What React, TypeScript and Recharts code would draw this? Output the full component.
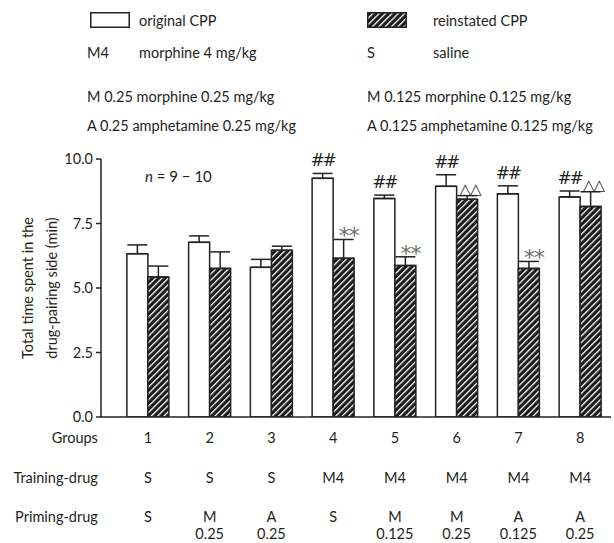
import React from 'react';
import { BarChart, Bar, XAxis, YAxis, ErrorBar, LabelList, Label } from 'recharts';

const groups = ['1', '2', '3', '4', '5', '6', '7', '8'];
const trainingDrug = ['S', 'S', 'S', 'M4', 'M4', 'M4', 'M4', 'M4'];
const primingDrug = ['S', 'M', 'A', 'S', 'M', 'M', 'A', 'A'];
const primingDose = ['', '0.25', '0.25', '', '0.125', '0.25', '0.125', '0.25'];
const originalCPP = [6.33, 6.77, 5.8, 9.25, 8.47, 8.94, 8.65, 8.53];
const originalSEM = [0.34, 0.25, 0.31, 0.19, 0.13, 0.45, 0.31, 0.23];
const reinstatedCPP = [5.43, 5.76, 6.46, 6.15, 5.87, 8.44, 5.76, 8.16];
const reinstatedSEM = [0.42, 0.64, 0.16, 0.73, 0.34, 0.14, 0.27, 0.57];
const originalMarks = ['', '', '', '##', '##', '##', '##', '##'];
const reinstatedMarks = ['', '', '', '**', '**', '△△', '**', '△△'];
const yTicks = [0, 2.5, 5, 7.5, 10];
const seriesNames = ['original CPP', 'reinstated CPP'];
const abbreviations = [
  ['M4', 'morphine 4 mg/kg', 'S', 'saline'],
];
const doseNotes = [
  ['M 0.25 morphine 0.25 mg/kg', 'M 0.125 morphine 0.125 mg/kg'],
  ['A 0.25 amphetamine 0.25 mg/kg', 'A 0.125 amphetamine 0.125 mg/kg'],
];
const rowLabels = ['Groups', 'Training-drug', 'Priming-drug'];
const yLabelLines = ['Total time spent in the', 'drug-pairing side (min)'];

const data = groups.map((g, i) => ({
  group: g,
  original: originalCPP[i],
  originalErr: [0, originalSEM[i]],
  reinstated: reinstatedCPP[i],
  reinstatedErr: [0, reinstatedSEM[i]],
  oMark: originalMarks[i],
  rMark: reinstatedMarks[i],
}));

const FONT = 'Lato, "Open Sans", sans-serif';
const FS = 14.5;
const TXT = '#231f20';

const XTick = (props: any) => {
  const { x, y, payload } = props;
  const i = payload.index;
  return (
    <g fontFamily={FONT} fontSize={FS} fill={TXT}>
      <text x={x} y={y + 26} textAnchor="middle" fill={TXT}>{groups[i]}</text>
      <text x={x} y={y + 66} textAnchor="middle" fill={TXT}>{trainingDrug[i]}</text>
      <text x={x} y={y + 105} textAnchor="middle" fill={TXT}>{primingDrug[i]}</text>
      <text x={x} y={y + 122} textAnchor="middle" fill={TXT}>{primingDose[i]}</text>
      {i === 0 && (
        <g>
          <text x={x - 50} y={y + 26} textAnchor="end" fill={TXT}>{rowLabels[0]}</text>
          <text x={x - 50} y={y + 66} textAnchor="end" fill={TXT}>{rowLabels[1]}</text>
          <text x={x - 50} y={y + 105} textAnchor="end" fill={TXT}>{rowLabels[2]}</text>
        </g>
      )}
    </g>
  );
};

const YLabel = (props: any) => {
  const vb = props.viewBox || {};
  const cy = vb.y + vb.height / 2;
  return (
    <g fontFamily={FONT} fontSize={FS} fill={TXT}>
      <text x={33} y={cy} transform={`rotate(-90 33 ${cy})`} textAnchor="middle" fill={TXT}>{yLabelLines[0]}</text>
      <text x={57} y={cy} transform={`rotate(-90 57 ${cy})`} textAnchor="middle" fill={TXT}>{yLabelLines[1]}</text>
    </g>
  );
};

const makeMark = (vals: number[], errs: number[], marks: string[]) => (props: any) => {
  const { x, y, width, height, index } = props;
  const m = marks[index];
  if (!m) return null;
  const pxPer = height / vals[index];
  const top = y - errs[index] * pxPer;
  const cx = x + width / 2;
  if (m === '##') {
    return (
      <text x={cx} y={top - 7} textAnchor="middle" fontFamily='"DejaVu Sans", sans-serif' fontSize={17} letterSpacing={-2} fill={TXT}>{m}</text>
    );
  }
  if (m === '**') {
    return (
      <text x={cx + 5} y={top + 4} textAnchor="middle" fontFamily='"DejaVu Sans", sans-serif' fontSize={22} letterSpacing={-1} fill="#6a6a6a">{m}</text>
    );
  }
  return (
    <text x={cx + 3} y={top - 2} textAnchor="middle" fontFamily='"DejaVu Sans", sans-serif' fontSize={15} letterSpacing={-1} fill={TXT}>{m}</text>
  );
};

const Swatch = ({ hatched }: { hatched: boolean }) => (
  <svg width={40} height={16} style={{ display: 'block' }}>
    <defs>
      <pattern id="hatchLegend" patternUnits="userSpaceOnUse" width={4.5} height={4.5} patternTransform="rotate(45)">
        <rect width={4.5} height={4.5} fill="#1a1a1a" />
        <rect width={1.3} height={4.5} fill="#fff" />
      </pattern>
    </defs>
    <rect x={0.75} y={0.75} width={38.5} height={14.5} fill={hatched ? 'url(#hatchLegend)' : '#fff'} stroke="#222" strokeWidth={1.5} />
  </svg>
);

const rowStyle = (top: number, left: number): React.CSSProperties => ({
  position: 'absolute', top: top - 9, left, fontFamily: FONT, fontSize: FS, lineHeight: '18px', color: TXT, whiteSpace: 'nowrap',
});

export default function App() {
  return (
    <div style={{ position: 'absolute', left: 0, top: 0, width: 614, height: 543, background: '#fff' }}>
      <div style={{ position: 'absolute', left: 90, top: 12 }}><Swatch hatched={false} /></div>
      <div style={rowStyle(21, 139)}>{seriesNames[0]}</div>
      <div style={{ position: 'absolute', left: 367, top: 12 }}><Swatch hatched={true} /></div>
      <div style={rowStyle(21, 433)}>{seriesNames[1]}</div>
      <div style={rowStyle(53, 87)}>{abbreviations[0][0]}</div>
      <div style={rowStyle(53, 139)}>{abbreviations[0][1]}</div>
      <div style={rowStyle(53, 367)}>{abbreviations[0][2]}</div>
      <div style={rowStyle(53, 433)}>{abbreviations[0][3]}</div>
      <div style={rowStyle(97, 87)}>{doseNotes[0][0]}</div>
      <div style={rowStyle(97, 367)}>{doseNotes[0][1]}</div>
      <div style={rowStyle(126, 87)}>{doseNotes[1][0]}</div>
      <div style={rowStyle(126, 367)}>{doseNotes[1][1]}</div>
      <div style={{ position: 'absolute', left: 0, top: 0 }}>
        <BarChart width={614} height={543} data={data} margin={{ top: 159, right: 3, bottom: 0, left: 0 }} barGap={0} barCategoryGap="16%">
          <defs>
            <pattern id="hatchBar" patternUnits="userSpaceOnUse" width={4.5} height={4.5} patternTransform="rotate(45)">
              <rect width={4.5} height={4.5} fill="#1a1a1a" />
              <rect width={1.3} height={4.5} fill="#fff" />
            </pattern>
          </defs>
          <XAxis
            dataKey="group"
            height={126}
            tickLine={false}
            tickSize={0}
            tickMargin={0}
            interval={0}
            padding={{ left: 16, right: 0 }}
            axisLine={{ stroke: '#222', strokeWidth: 1.5 }}
            tick={<XTick />}
          />
          <YAxis
            width={101}
            domain={[0, 10]}
            ticks={yTicks}
            tickFormatter={(v: number) => v.toFixed(1)}
            tickSize={5}
            tickMargin={3}
            tickLine={{ stroke: '#222', strokeWidth: 1.5 }}
            axisLine={{ stroke: '#222', strokeWidth: 1.5 }}
            tick={{ fontFamily: FONT, fontSize: FS, fill: TXT }}
            allowDataOverflow
          >
            <Label content={<YLabel />} />
          </YAxis>
          <Bar dataKey="original" name={seriesNames[0]} fill="#fff" stroke="#222" strokeWidth={1.5} isAnimationActive={false}>
            <ErrorBar dataKey="originalErr" width={10} stroke="#222" strokeWidth={1.5} direction="y" />
            <LabelList dataKey="oMark" content={makeMark(originalCPP, originalSEM, originalMarks)} />
          </Bar>
          <Bar dataKey="reinstated" name={seriesNames[1]} fill="url(#hatchBar)" stroke="#222" strokeWidth={1.5} isAnimationActive={false}>
            <ErrorBar dataKey="reinstatedErr" width={10} stroke="#222" strokeWidth={1.5} direction="y" />
            <LabelList dataKey="rMark" content={makeMark(reinstatedCPP, reinstatedSEM, reinstatedMarks)} />
          </Bar>
          <text x={145} y={182} fontFamily={FONT} fontSize={15} fill={TXT}>
            <tspan fontStyle="italic">n</tspan>
            <tspan> = 9 − 10</tspan>
          </text>
        </BarChart>
      </div>
    </div>
  );
}
